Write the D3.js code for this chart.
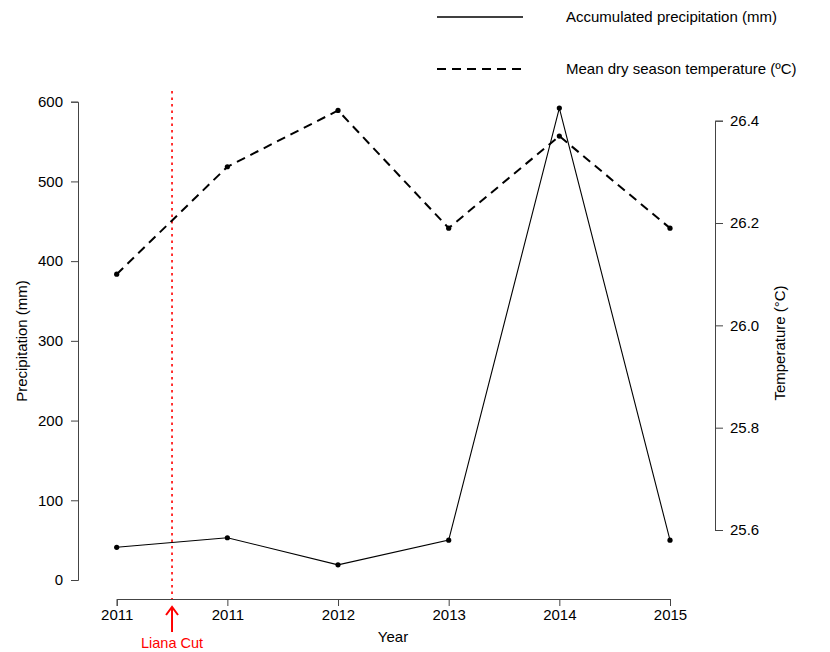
<!DOCTYPE html>
<html>
<head>
<meta charset="utf-8">
<script src="https://cdn.jsdelivr.net/npm/d3@7"></script>
<style>
  html, body { margin: 0; padding: 0; background: #fff; }
  svg { display: block; font-family: "Liberation Sans", Arial, Helvetica, sans-serif; }
</style>
</head>
<body>
<svg id="chart" width="830" height="652"></svg>
<script>
// Year labels for each sampling period (first two both fall in 2011)
const yearLabels = ["2011", "2011", "2012", "2013", "2014", "2015"];
// Accumulated dry-season precipitation (mm)
const precipitation = [41, 53, 19, 50, 592, 50];
// Mean dry-season temperature (°C)
const temperature = [26.10, 26.31, 26.42, 26.19, 26.37, 26.19];
// Tick values
const precipTicks = [0, 100, 200, 300, 400, 500, 600];
const tempTicks = [25.6, 25.8, 26.0, 26.2, 26.4];
// Liana cut happened between the first two samples
const lianaCutPosition = 0.5;

const svg = d3.select("#chart");
const fontSize = 15;
const axisColor = "#444";

const x = d3.scaleLinear().domain([0, yearLabels.length - 1]).range([116.7, 670]);
const yP = d3.scaleLinear().domain([0, 600]).range([580, 101.7]);
const yT = d3.scaleLinear().domain([25.6, 26.4]).range([530, 120.7]);

function styleAxis(g) {
  g.selectAll("path.domain").attr("stroke", axisColor).attr("stroke-width", 1);
  g.selectAll(".tick line").attr("stroke", axisColor).attr("stroke-width", 1);
  g.selectAll("text").attr("fill", "#000").style("font-size", fontSize + "px")
    .style("font-family", "'Liberation Sans', Arial, sans-serif");
}

// Left axis: precipitation
const gLeft = svg.append("g").attr("transform", "translate(78,0)")
  .call(d3.axisLeft(yP).tickValues(precipTicks).tickSizeOuter(0).tickSize(7).tickPadding(8));
styleAxis(gLeft);

// Right axis: temperature
const gRight = svg.append("g").attr("transform", "translate(715,0)")
  .call(d3.axisRight(yT).tickValues(tempTicks).tickFormat(d3.format(".1f")).tickSizeOuter(0).tickSize(8).tickPadding(7));
styleAxis(gRight);

// Bottom axis: years
const gBottom = svg.append("g").attr("transform", "translate(0,599)")
  .call(d3.axisBottom(x).tickValues(d3.range(yearLabels.length))
    .tickFormat(i => yearLabels[i]).tickSizeOuter(0).tickSize(7).tickPadding(3));
styleAxis(gBottom);

// Axis titles
svg.append("text").attr("transform", "translate(27,341) rotate(-90)")
  .attr("text-anchor", "middle").style("font-size", fontSize + "px").text("Precipitation (mm)");
svg.append("text").attr("transform", "translate(785,343) rotate(-90)")
  .attr("text-anchor", "middle").style("font-size", fontSize + "px").text("Temperature (\u00B0C)");
svg.append("text").attr("x", 393).attr("y", 642)
  .attr("text-anchor", "middle").style("font-size", fontSize + "px").text("Year");

// Liana cut marker
const xCut = x(lianaCutPosition);
svg.append("line").attr("x1", xCut).attr("x2", xCut).attr("y1", 91).attr("y2", 599)
  .attr("stroke", "#ff0000").attr("stroke-width", 1.6).attr("stroke-dasharray", "2.5,4");
svg.append("line").attr("x1", xCut).attr("x2", xCut).attr("y1", 608).attr("y2", 632)
  .attr("stroke", "#ff0000").attr("stroke-width", 2);
svg.append("path").attr("d", `M${xCut - 6},${615} L${xCut},${607} L${xCut + 6},${615}`)
  .attr("fill", "none").attr("stroke", "#ff0000").attr("stroke-width", 2);
svg.append("text").attr("x", xCut).attr("y", 648).attr("text-anchor", "middle")
  .attr("fill", "#ff0000").style("font-size", "14.5px").text("Liana Cut");

// Precipitation series (solid)
const linePrecip = d3.line().x((d, i) => x(i)).y(d => yP(d));
svg.append("path").datum(precipitation).attr("d", linePrecip)
  .attr("fill", "none").attr("stroke", "#000").attr("stroke-width", 1.1);
svg.append("g").selectAll("circle").data(precipitation).join("circle")
  .attr("cx", (d, i) => x(i)).attr("cy", d => yP(d)).attr("r", 2.6).attr("fill", "#000");

// Temperature series (dashed)
const lineTemp = d3.line().x((d, i) => x(i)).y(d => yT(d));
svg.append("path").datum(temperature).attr("d", lineTemp)
  .attr("fill", "none").attr("stroke", "#000").attr("stroke-width", 2)
  .attr("stroke-dasharray", "9,6");
svg.append("g").selectAll("circle").data(temperature).join("circle")
  .attr("cx", (d, i) => x(i)).attr("cy", d => yT(d)).attr("r", 2.6).attr("fill", "#000");

// Legend
const legend = [
  { label: "Accumulated precipitation (mm)", dash: null, width: 1.5, y: 17 },
  { label: "Mean dry season temperature (\u00BAC)", dash: "9,6", width: 2, y: 69 }
];
legend.forEach(item => {
  svg.append("line").attr("x1", 437).attr("x2", 523).attr("y1", item.y).attr("y2", item.y)
    .attr("stroke", "#000").attr("stroke-width", item.width)
    .attr("stroke-dasharray", item.dash);
  svg.append("text").attr("x", 566).attr("y", item.y).attr("dy", "0.35em")
    .style("font-size", fontSize + "px").text(item.label);
});
</script>
</body>
</html>
